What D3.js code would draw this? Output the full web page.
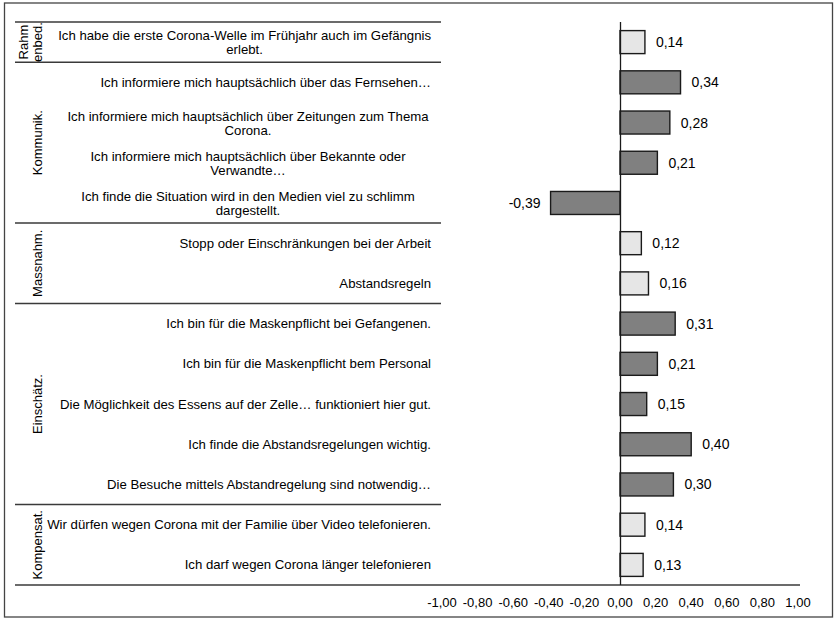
<!DOCTYPE html>
<html><head><meta charset="utf-8">
<script src="https://cdn.jsdelivr.net/npm/d3@7"></script>
<style>body{margin:0;background:#fff}svg{display:block}text{font-family:"Liberation Sans",Arial,sans-serif;fill:#000}</style>
</head><body>
<script>
const items = [
  "Ich habe die erste Corona-Welle im Frühjahr auch im Gefängnis\nerlebt.",
  "Ich informiere mich hauptsächlich über das Fernsehen…",
  "Ich informiere mich hauptsächlich über Zeitungen zum Thema\nCorona.",
  "Ich informiere mich hauptsächlich über Bekannte oder\nVerwandte…",
  "Ich finde die Situation wird in den Medien viel zu schlimm\ndargestellt.",
  "Stopp oder Einschränkungen bei der Arbeit",
  "Abstandsregeln",
  "Ich bin für die Maskenpflicht bei Gefangenen.",
  "Ich bin für die Maskenpflicht bem Personal",
  "Die Möglichkeit des Essens auf der Zelle… funktioniert hier gut.",
  "Ich finde die Abstandsregelungen wichtig.",
  "Die Besuche mittels Abstandregelung sind notwendig…",
  "Wir dürfen wegen Corona mit der Familie über Video telefonieren.",
  "Ich darf wegen Corona länger telefonieren"
];
const values = [0.14, 0.34, 0.28, 0.21, -0.39, 0.12, 0.16, 0.31, 0.21, 0.15, 0.40, 0.30, 0.14, 0.13];
const groupNames = ["Rahm\nenbed.", "Kommunik.", "Massnahm.", "Einschätz.", "Kompensat."];
const groupSizes = [1, 4, 2, 5, 2];
const groupDark = [false, true, false, true, false];
const ticks = [-1, -0.8, -0.6, -0.4, -0.2, 0, 0.2, 0.4, 0.6, 0.8, 1];

const W = 835, H = 621;
const svg = d3.select("body").append("svg").attr("width", W).attr("height", H);
svg.append("rect").attr("x", 4.5).attr("y", 3).attr("width", 828).attr("height", 614)
  .attr("fill", "#fff").attr("stroke", "#444").attr("stroke-width", 1.3);

const yTop = 22, yBot = 585;
const x = d3.scaleLinear().domain([-1, 1]).range([442, 798]);
const y = d3.scaleBand().domain(d3.range(items.length)).range([yTop, yBot]).paddingInner(0.428).paddingOuter(0.214);
const rowH = y.step();
const rowC = i => y(i) + y.bandwidth() / 2;
const fmt = v => d3.format(".2f")(v).replace(".", ",").replace("\u2212", "-");
const FS = 13.2;

const groupOf = [];
groupSizes.forEach((n, g) => { for (let k = 0; k < n; k++) groupOf.push(g); });

// separator lines
let acc = 0;
const seps = [0];
groupSizes.forEach(n => { acc += n; seps.push(acc); });
seps.forEach((k, j) => {
  const yy = yTop + rowH * k;
  svg.append("line").attr("x1", 15).attr("x2", j === seps.length - 1 ? 800 : 441)
    .attr("y1", yy).attr("y2", yy).attr("stroke", "#3a3a3a").attr("stroke-width", 1.4);
});

// group labels
let start = 0;
groupSizes.forEach((n, g) => {
  const cy = yTop + rowH * (start + n / 2);
  const lines = groupNames[g].split("\n");
  const t = svg.append("text").attr("transform", `translate(${lines.length > 1 ? 30 : 37},${cy}) rotate(-90)`)
    .attr("text-anchor", "middle").attr("font-size", 13);
  lines.forEach((l, i) => t.append("tspan").attr("x", 0)
    .attr("dy", i === 0 ? (-(lines.length - 1) * 7 + 4.5) + "px" : "14px").text(l));
  start += n;
});

// item labels
items.forEach((lab, i) => {
  const lines = lab.split("\n");
  const cy = rowC(i);
  if (lines.length === 1) {
    svg.append("text").attr("x", 431).attr("y", cy + 4.5).attr("text-anchor", "end")
      .attr("font-size", FS).text(lines[0]);
  } else {
    const t = svg.append("text").attr("font-size", FS).attr("text-anchor", "middle");
    const spans = lines.map((l, j) => t.append("tspan").attr("x", 0)
      .attr("y", cy + 5 + (j - (lines.length - 1) / 2) * 14).text(l));
    const w = d3.max(spans, s => s.node().getComputedTextLength());
    const cx = Math.min(248, 431 - w / 2);
    spans.forEach(s => s.attr("x", cx));
  }
});

// bars
svg.selectAll("rect.bar").data(values).enter().append("rect").attr("class", "bar")
  .attr("x", d => x(Math.min(0, d)))
  .attr("width", d => Math.abs(x(d) - x(0)))
  .attr("y", (d, i) => y(i))
  .attr("height", y.bandwidth())
  .attr("fill", (d, i) => groupDark[groupOf[i]] ? "#808080" : "#e6e6e6")
  .attr("stroke", "#1a1a1a").attr("stroke-width", 1.4);

// zero line
svg.append("line").attr("x1", x(0) + 0.5).attr("x2", x(0) + 0.5).attr("y1", yTop).attr("y2", yBot)
  .attr("stroke", "#1a1a1a").attr("stroke-width", 1.3);

// value labels
svg.selectAll("text.val").data(values).enter().append("text").attr("class", "val")
  .attr("x", d => d >= 0 ? x(d) + 11 : x(d) - 10)
  .attr("y", (d, i) => rowC(i) + 5)
  .attr("text-anchor", d => d >= 0 ? "start" : "end")
  .attr("font-size", 14).text(fmt);

// tick labels
svg.selectAll("text.tick").data(ticks).enter().append("text").attr("class", "tick")
  .attr("x", d => x(d)).attr("y", 607).attr("text-anchor", "middle")
  .attr("font-size", 13).text(fmt);
</script>
</body></html>
